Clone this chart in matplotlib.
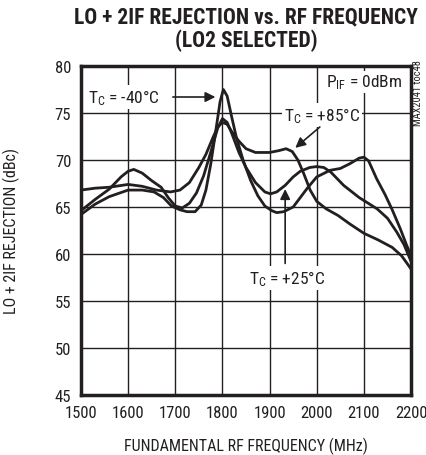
import numpy as np
import matplotlib
matplotlib.use("Agg")
import matplotlib.pyplot as plt

plt.rcParams['font.family'] = ['Roboto Condensed', 'DejaVu Sans']
plt.rcParams['mathtext.fontset'] = 'custom'
plt.rcParams['mathtext.rm'] = 'Roboto Condensed'
plt.rcParams['mathtext.it'] = 'Roboto Condensed'

# curves (MHz, dBc)
x_85 = [1500, 1530, 1560, 1600, 1630, 1660, 1690, 1710, 1730, 1750, 1765, 1780,
        1790, 1800, 1810, 1820, 1835, 1850, 1870, 1900, 1920, 1935, 1948, 1960,
        1972, 1986, 2000, 2020, 2045, 2070, 2100, 2130, 2160, 2180, 2200]
y_85 = [66.8, 67.0, 67.1, 67.4, 67.2, 66.8, 66.6, 66.8, 67.6, 69.2, 70.6, 72.4,
        73.5, 74.0, 73.8, 73.0, 72.0, 71.2, 70.8, 70.8, 71.0, 71.2, 70.9, 70.0,
        68.6, 66.8, 65.6, 64.8, 64.1, 63.2, 62.2, 61.5, 60.7, 59.8, 58.4]

x_25 = [1500, 1530, 1560, 1585, 1600, 1612, 1630, 1650, 1670, 1685, 1700, 1715,
        1730, 1745, 1760, 1775, 1790, 1800, 1810, 1820, 1835, 1850, 1870, 1890,
        1902, 1915, 1933, 1950, 1965, 1985, 2000, 2015, 2030, 2057, 2090, 2128,
        2150, 2170, 2185, 2200]
y_25 = [64.6, 65.8, 66.9, 68.2, 68.8, 69.0, 68.6, 67.8, 67.1, 66.0, 65.1, 64.9,
        65.4, 66.5, 68.3, 70.8, 73.4, 74.4, 74.0, 72.8, 70.8, 69.2, 67.6, 66.6,
        66.4, 66.6, 67.3, 68.2, 68.8, 69.2, 69.3, 69.2, 68.7, 67.3, 66.0, 64.8,
        63.8, 62.3, 61.0, 59.2]

x_m40 = [1500, 1530, 1560, 1600, 1630, 1655, 1675, 1692, 1710, 1725, 1742, 1755,
         1765, 1775, 1785, 1795, 1802, 1810, 1820, 1830, 1845, 1860, 1875, 1890,
         1905, 1915, 1930, 1950, 1965, 1980, 2000, 2028, 2050, 2070, 2090, 2100,
         2110, 2127, 2145, 2160, 2177, 2190, 2200]
y_m40 = [64.2, 65.3, 66.1, 66.8, 66.8, 66.6, 66.0, 65.1, 64.7, 64.5, 64.5, 65.2,
         66.8, 69.5, 72.8, 76.2, 77.5, 76.8, 74.5, 72.3, 69.8, 67.8, 66.2, 65.1,
         64.6, 64.4, 64.5, 65.0, 66.0, 67.0, 68.2, 68.9, 69.1, 69.6, 70.2, 70.3,
         69.9, 68.0, 66.3, 64.7, 62.7, 61.0, 59.8]

x_ticks = [1500, 1600, 1700, 1800, 1900, 2000, 2100, 2200]
y_ticks = [45, 50, 55, 60, 65, 70, 75, 80]

fig = plt.figure(figsize=(4.26, 4.56), dpi=100)
ax = fig.add_axes([0.190, 0.1316, 0.775, 0.7215])

ink = '#231f20'
for xs, ys in [(x_85, y_85), (x_25, y_25), (x_m40, y_m40)]:
    ax.plot(xs, ys, color=ink, lw=2.0, solid_capstyle='round', zorder=3)

ax.set_xlim(1500, 2200)
ax.set_ylim(45, 80)
ax.set_xticks(x_ticks)
ax.set_yticks(y_ticks)
ax.grid(True, color=ink, lw=1.0)
ax.tick_params(length=0, labelsize=12, colors=ink, pad=7)
for s in ax.spines.values():
    s.set_linewidth(2.5)
    s.set_color(ink)

ax.set_xlabel('FUNDAMENTAL RF FREQUENCY (MHz)', fontsize=11.5, color=ink, labelpad=12)
ax.set_ylabel('LO + 2IF REJECTION (dBc)', fontsize=11.5, color=ink, labelpad=25)

fig.text(0.578, 0.985, 'LO + 2IF REJECTION vs. RF FREQUENCY\n(LO2 SELECTED)',
         ha='center', va='top', fontsize=15.5, fontweight='bold', color=ink,
         linespacing=1.05)

box = dict(facecolor='white', edgecolor='none', pad=1.5)
ax.text(1515, 76.7, r'T$_\mathrm{C}$ = -40°C', fontsize=12.5, color=ink,
        va='center', ha='left', bbox=box, zorder=4)
ax.annotate('', xy=(1791, 76.7), xytext=(1689, 76.7),
            arrowprops=dict(arrowstyle='-|>', color=ink, lw=1.2,
                            mutation_scale=15), zorder=4)

ax.text(2181, 78.3, r'P$_\mathrm{IF}$ = 0dBm', fontsize=12.5, color=ink,
        va='center', ha='right', bbox=box, zorder=4)

ax.text(2011, 74.8, r'T$_\mathrm{C}$ = +85°C', fontsize=12.5, color=ink,
        va='center', ha='center', bbox=box, zorder=4)
ax.annotate('', xy=(1950, 71.1), xytext=(2011, 73.7),
            arrowprops=dict(arrowstyle='-|>', color=ink, lw=1.2,
                            mutation_scale=15), zorder=4)

ax.text(1936, 57.4, r'T$_\mathrm{C}$ = +25°C', fontsize=12.5, color=ink,
        va='center', ha='center', bbox=box, zorder=4)
ax.annotate('', xy=(1933, 67.2), xytext=(1933, 58.7),
            arrowprops=dict(arrowstyle='-|>', color=ink, lw=1.2,
                            mutation_scale=15), zorder=4)

fig.text(0.982, 0.795, 'MAX2041 toc48', rotation=90, ha='center', va='center',
         fontsize=7.5, color=ink)

fig.savefig('out.png', dpi=100)
